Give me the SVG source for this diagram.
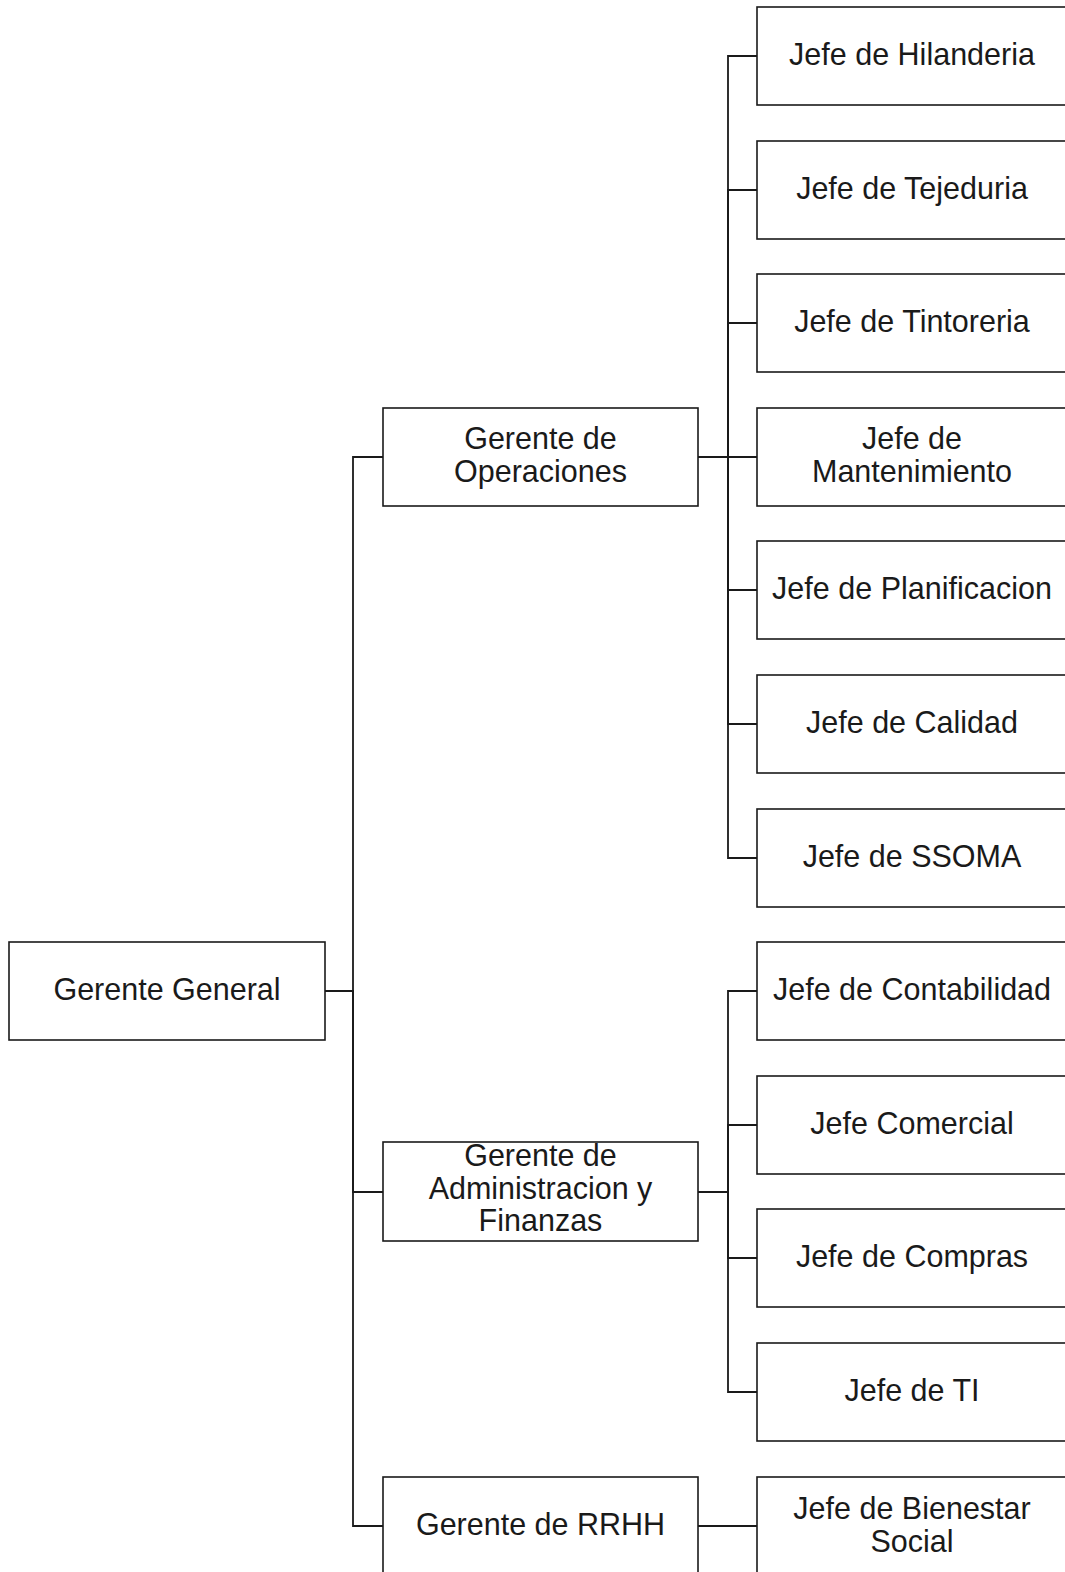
<svg xmlns="http://www.w3.org/2000/svg" width="1065" height="1572" viewBox="0 0 1065 1572">
<style>
.box{fill:#fff;stroke:#1a1a1a;stroke-width:1.6}
.t{font-family:"Liberation Sans",Arial,sans-serif;font-size:30.5px;fill:#1a1a1a;text-anchor:middle}
.c{fill:none;stroke:#1a1a1a;stroke-width:1.8}
</style>
<rect width="1065" height="1572" fill="#fff"/>
<g id="connectors">
<path class="c" d="M325,991H353V457H383"/>
<path class="c" d="M325,991H353V1192H383"/>
<path class="c" d="M325,991H353V1526H383"/>
<path class="c" d="M698,457H728V56H757"/>
<path class="c" d="M698,457H728V190H757"/>
<path class="c" d="M698,457H728V323H757"/>
<path class="c" d="M698,457H757"/>
<path class="c" d="M698,457H728V590H757"/>
<path class="c" d="M698,457H728V724H757"/>
<path class="c" d="M698,457H728V858H757"/>
<path class="c" d="M698,1192H728V991H757"/>
<path class="c" d="M698,1192H728V1125H757"/>
<path class="c" d="M698,1192H728V1258H757"/>
<path class="c" d="M698,1192H728V1392H757"/>
<path class="c" d="M698,1526H757"/>
</g>
<g id="gerente-general"><rect class="box" x="9" y="942" width="316" height="98"/><text class="t" x="167" y="1000">Gerente General</text></g>
<g id="gerente-operaciones"><rect class="box" x="383" y="408" width="315" height="98"/><text class="t" x="540.5" y="449">Gerente de</text><text class="t" x="540.5" y="482">Operaciones</text></g>
<g id="gerente-admin"><rect class="box" x="383" y="1142" width="315" height="99"/><text class="t" x="540.5" y="1166">Gerente de</text><text class="t" x="540.5" y="1199">Administracion y</text><text class="t" x="540.5" y="1231">Finanzas</text></g>
<g id="gerente-rrhh"><rect class="box" x="383" y="1477" width="315" height="98"/><text class="t" x="540.5" y="1535">Gerente de RRHH</text></g>
<g id="jefe-hilanderia"><rect class="box" x="757" y="7" width="312" height="98"/><text class="t" x="912" y="65">Jefe de Hilanderia</text></g>
<g id="jefe-tejeduria"><rect class="box" x="757" y="141" width="312" height="98"/><text class="t" x="912" y="199">Jefe de Tejeduria</text></g>
<g id="jefe-tintoreria"><rect class="box" x="757" y="274" width="312" height="98"/><text class="t" x="912" y="332">Jefe de Tintoreria</text></g>
<g id="jefe-mantenimiento"><rect class="box" x="757" y="408" width="312" height="98"/><text class="t" x="912" y="449">Jefe de</text><text class="t" x="912" y="482">Mantenimiento</text></g>
<g id="jefe-planificacion"><rect class="box" x="757" y="541" width="312" height="98"/><text class="t" x="912" y="599">Jefe de Planificacion</text></g>
<g id="jefe-calidad"><rect class="box" x="757" y="675" width="312" height="98"/><text class="t" x="912" y="733">Jefe de Calidad</text></g>
<g id="jefe-ssoma"><rect class="box" x="757" y="809" width="312" height="98"/><text class="t" x="912" y="867">Jefe de SSOMA</text></g>
<g id="jefe-contabilidad"><rect class="box" x="757" y="942" width="312" height="98"/><text class="t" x="912" y="1000">Jefe de Contabilidad</text></g>
<g id="jefe-comercial"><rect class="box" x="757" y="1076" width="312" height="98"/><text class="t" x="912" y="1134">Jefe Comercial</text></g>
<g id="jefe-compras"><rect class="box" x="757" y="1209" width="312" height="98"/><text class="t" x="912" y="1267">Jefe de Compras</text></g>
<g id="jefe-ti"><rect class="box" x="757" y="1343" width="312" height="98"/><text class="t" x="912" y="1401">Jefe de TI</text></g>
<g id="jefe-bienestar"><rect class="box" x="757" y="1477" width="312" height="98"/><text class="t" x="912" y="1519">Jefe de Bienestar</text><text class="t" x="912" y="1552">Social</text></g>
</svg>
